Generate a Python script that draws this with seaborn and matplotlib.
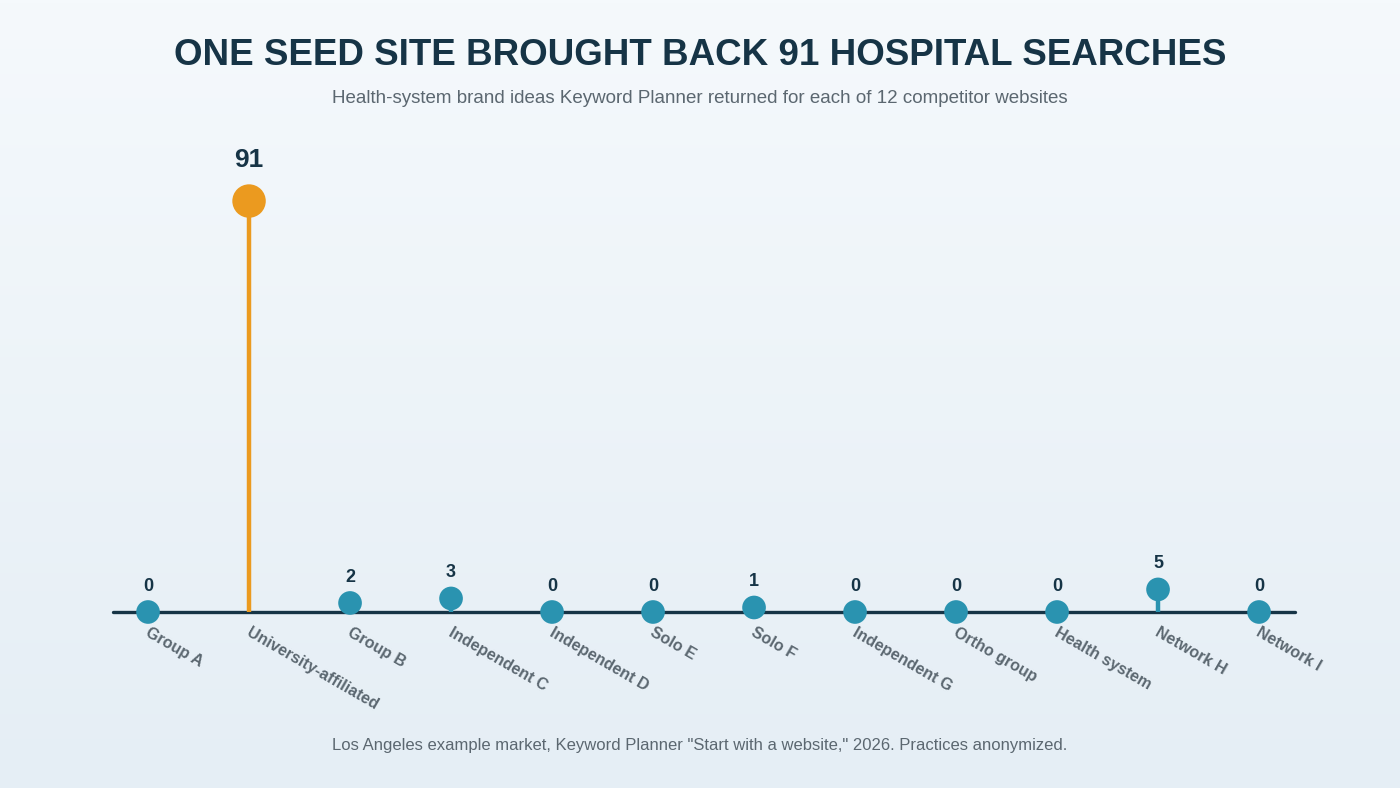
import matplotlib
matplotlib.use("Agg")
import matplotlib.pyplot as plt
import seaborn as sns
import numpy as np
import pandas as pd

sites = ["Group A", "University-affiliated", "Group B", "Independent C", "Independent D",
         "Solo E", "Solo F", "Independent G", "Ortho group", "Health system",
         "Network H", "Network I"]
searches = [0, 91, 2, 3, 0, 0, 1, 0, 0, 0, 5, 0]
highlight = "University-affiliated"

TEAL = "#2a93b0"
ORANGE = "#eb9a1f"
DARK = "#163446"
GREY = "#5b6770"

sns.set_style("white")
plt.rcParams["font.family"] = ["Liberation Sans", "DejaVu Sans"]

fig = plt.figure(figsize=(14, 7.88), dpi=100)
bg = fig.add_axes([0, 0, 1, 1], zorder=-10)
grad = np.linspace(0, 1, 256).reshape(-1, 1)
bg.imshow(grad, aspect="auto", extent=[0, 1, 0, 1],
          cmap=matplotlib.colors.LinearSegmentedColormap.from_list("bg", ["#f5f9fc", "#e5eef5"]))
bg.axis("off")

ax = fig.add_axes([113 / 1400, 176 / 788, 1182 / 1400, 451.6 / 788])
ax.patch.set_alpha(0)
df = pd.DataFrame({"site": sites, "searches": searches, "x": range(len(sites))})
colors = [ORANGE if s == highlight else TEAL for s in sites]

ax.axhline(0, color=DARK, lw=2.4, zorder=1, clip_on=False)
for x, v, c in zip(df["x"], df["searches"], colors):
    ax.plot([x, x], [0, v], color=c, lw=3.2, solid_capstyle="butt", zorder=2)
small = df[df["site"] != highlight]
big = df[df["site"] == highlight]
sns.scatterplot(data=small, x="x", y="searches", color=TEAL, s=290, edgecolor="none",
                ax=ax, zorder=3, clip_on=False)
sns.scatterplot(data=big, x="x", y="searches", color=ORANGE, s=580, edgecolor="none",
                ax=ax, zorder=3, clip_on=False)

for x, v, s in zip(df["x"], df["searches"], sites):
    if s == highlight:
        ax.text(x, v + 6.5, str(v), ha="center", va="bottom", fontsize=19, fontweight="bold", color=DARK)
    else:
        ax.text(x, v + 3.8, str(v), ha="center", va="bottom", fontsize=13, fontweight="bold", color=DARK)
    ax.text(x + 0.02, -2.8, s, ha="left", va="top", rotation=-30, rotation_mode="anchor",
            fontsize=11.5, fontweight="bold", color=GREY)

ax.set_xlim(-0.347, 11.356)
ax.set_ylim(0, 100)
ax.axis("off")

fig.text(0.5, 0.93, "ONE SEED SITE BROUGHT BACK 91 HOSPITAL SEARCHES", ha="center", va="center",
         fontsize=26.5, fontweight="heavy", color=DARK)
fig.text(0.5, 0.875, "Health-system brand ideas Keyword Planner returned for each of 12 competitor websites",
         ha="center", va="center", fontsize=13.5, color=GREY)
fig.text(0.5, 0.054, 'Los Angeles example market, Keyword Planner "Start with a website," 2026. Practices anonymized.',
         ha="center", va="center", fontsize=12, color=GREY)

fig.savefig("out.png", dpi=100)
plt.close(fig)
